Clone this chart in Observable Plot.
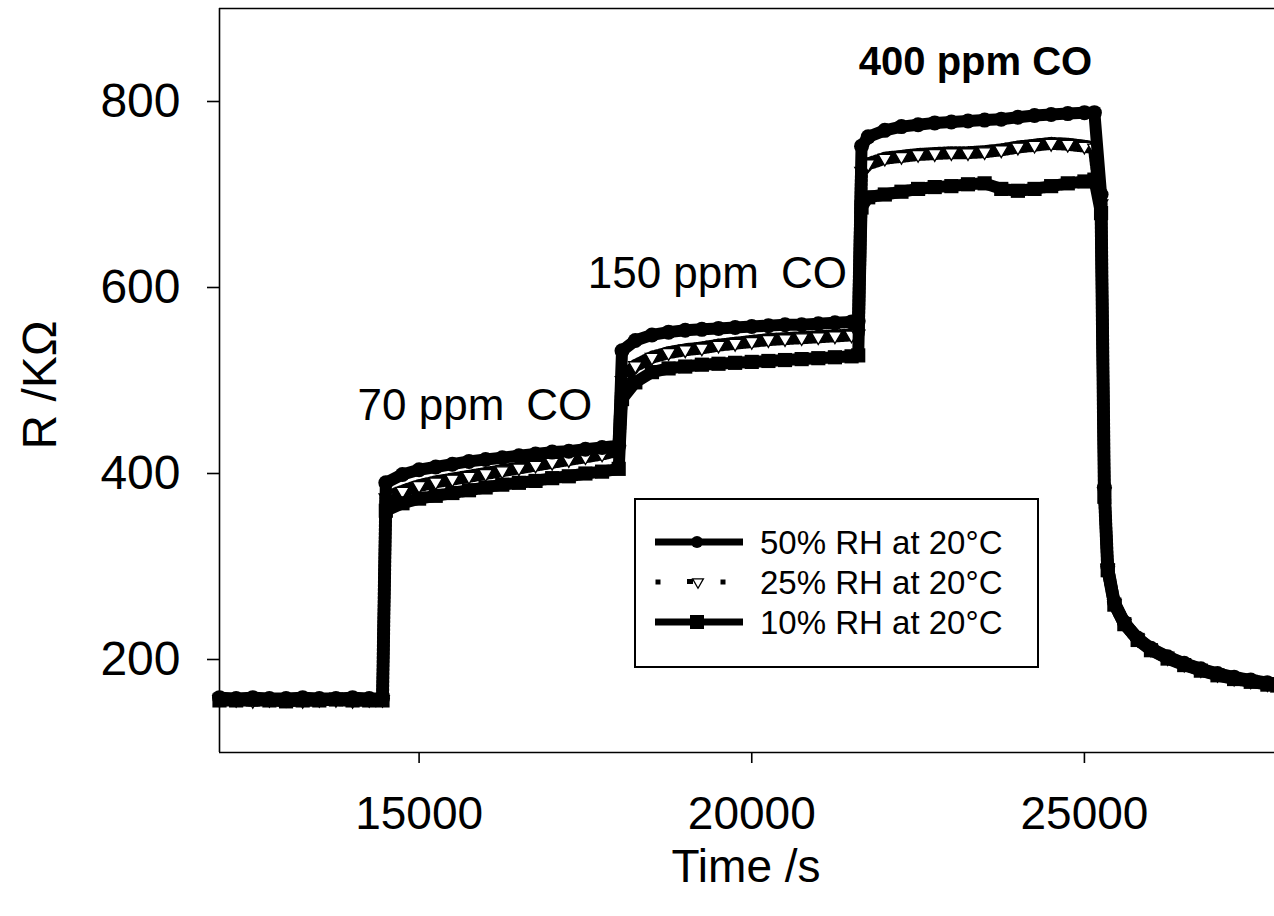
<!DOCTYPE html>
<html><head><meta charset="utf-8">
<script src="https://cdn.jsdelivr.net/npm/d3@7"></script>
<script src="https://cdn.jsdelivr.net/npm/@observablehq/plot@0.6"></script>
<style>
html,body{margin:0;padding:0;background:#fff;overflow:hidden}
#chart{position:relative;width:1274px;height:916px}
#chart svg text{font-family:'Liberation Sans',Arial,sans-serif}
g[aria-label="y-axis tick label"]{font-size:48px}
g[aria-label="x-axis tick label"]{font-size:46px}
g[aria-label="x-axis tick"] path, g[aria-label="y-axis tick"] path{stroke-width:1.6px}
</style></head><body><div id="chart"></div>
<script>
// ---- data ----
const xTicks = [15000, 20000, 25000];
const yTicks = [200, 400, 600, 800];
const seriesNames = ["50% RH at 20°C", "25% RH at 20°C", "10% RH at 20°C"];

const time = [
  12000, 12250, 12500, 12750, 13000, 13250, 13500, 13750, 14000, 14250, 14450,
  14500, 14750, 15000, 15250, 15500, 15750, 16000, 16250, 16500, 16750, 17000, 17250, 17500, 17750, 18000,
  18050, 18250, 18500, 18750, 19000, 19250, 19500, 19750, 20000, 20250, 20500, 20750, 21000, 21250, 21500, 21600,
  21650, 21750, 22000, 22250, 22500, 22750, 23000, 23250, 23500, 23750, 24000, 24250, 24500, 24750, 25000, 25150,
  25250, 25300, 25350, 25450, 25600, 25800, 26000, 26250, 26500, 26750, 27000, 27250, 27500, 27750, 27900
];
const rh50 = [
  159, 158, 159, 158, 158, 159, 158, 158, 159, 158, 158,
  390, 399, 404, 407, 410, 413, 415, 417, 419, 421, 423, 424, 426, 428, 430,
  532, 543, 549, 552, 554, 555, 556, 557, 558, 559, 560, 560, 561, 562, 563, 564,
  752, 762, 769, 773, 775, 777, 778, 779, 780, 781, 783, 785, 786, 787, 788, 788,
  700, 385, 300, 262, 240, 223, 212, 203, 196, 190, 185, 181, 178, 175, 174
];
const rh25 = [
  157, 157, 156, 157, 157, 156, 157, 157, 156, 157, 157,
  374, 381, 387, 391, 394, 397, 400, 403, 406, 409, 412, 415, 418, 421, 425,
  500, 516, 525, 530, 533, 535, 538, 540, 542, 544, 545, 546, 547, 548, 549, 550,
  725, 733, 739, 741, 743, 744, 745, 745, 746, 748, 751, 753, 755, 754, 752, 750,
  690, 380, 298, 260, 239, 222, 211, 202, 195, 189, 184, 180, 177, 174, 173
];
const rh10 = [
  156, 156, 157, 156, 155, 156, 156, 157, 156, 156, 156,
  360, 368, 373, 376, 379, 382, 385, 388, 390, 392, 395, 397, 400, 402, 405,
  480, 498, 509, 513, 515, 517, 518, 519, 520, 521, 522, 523, 524, 525, 526, 527,
  686, 697, 700, 703, 706, 708, 709, 711, 712, 706, 704, 706, 709, 712, 714, 716,
  680, 375, 296, 259, 238, 221, 210, 201, 194, 188, 183, 179, 176, 173, 172
];

const annoText = ["70 ppm\u2002CO", "150 ppm\u2002CO", "400 ppm CO"];
const annoTime = [14075, 17534, 21609];
const annoR = [458, 600, 828];
const annoBold = [false, false, true];

// ---- build tables ----
const toRows = vals => time.map((t, i) => ({t, r: vals[i]}));
const d50 = toRows(rh50), d25 = toRows(rh25), d10 = toRows(rh10);
const anno = annoText.map((text, i) => ({text, t: annoTime[i], r: annoR[i], bold: annoBold[i]}));

const chart = Plot.plot({
  width: 1274, height: 916,
  marginLeft: 219, marginRight: 0, marginTop: 8, marginBottom: 164,
  style: {fontFamily: "'Liberation Sans', Arial, sans-serif", fontSize: "46px", color: "#000", background: "#fff"},
  x: {domain: [12000, 27857], ticks: xTicks, tickSize: 11, tickPadding: 33, tickFormat: d => String(d), label: null},
  y: {domain: [100, 900], ticks: yTicks, tickSize: 12, tickPadding: 27, label: null},
  marks: [
    Plot.line(d25, {x: "t", y: "r", stroke: "#fff", strokeWidth: 13}),
    Plot.line(d25, {x: "t", y: "r", stroke: "#000", strokeWidth: 13, strokeDasharray: "2,2"}),
    Plot.dot(d25, {x: "t", y: "r", symbol: "triangle", rotate: 180, r: 5, fill: "#fff", stroke: "#000", strokeWidth: 1.3}),
    Plot.line(d10, {x: "t", y: "r", stroke: "#000", strokeWidth: 12}),
    Plot.dot(d10, {x: "t", y: "r", symbol: "square", r: 8, fill: "#000"}),
    Plot.line(d50, {x: "t", y: "r", stroke: "#000", strokeWidth: 12}),
    Plot.dot(d50, {x: "t", y: "r", symbol: "circle", r: 7.5, fill: "#000"}),
    Plot.text(anno.filter(d => !d.bold), {x: "t", y: "r", text: "text", textAnchor: "start", lineAnchor: "bottom", fontSize: 44, fill: "#000"}),
    Plot.text(anno.filter(d => d.bold), {x: "t", y: "r", text: "text", textAnchor: "start", lineAnchor: "bottom", fontSize: 40, fontWeight: "bold", fill: "#000"}),
    Plot.ruleX([12000], {stroke: "#000", strokeWidth: 1.6}),
    Plot.ruleY([100, 900], {stroke: "#000", strokeWidth: 1.6})
  ]
});

const root = document.getElementById("chart");
root.appendChild(chart);

// axis titles
const svg = d3.select(chart);
svg.append("text").attr("x", 746).attr("y", 882).attr("text-anchor", "middle")
  .attr("font-size", 46).attr("fill", "#000").text("Time /s");
svg.append("text").attr("transform", "translate(56,385) rotate(-90)").attr("text-anchor", "middle")
  .attr("font-size", 48).attr("fill", "#000").text("R /KΩ");

// legend (inside the plot area)
const leg = d3.create("svg").attr("width", 405).attr("height", 170)
  .style("position", "absolute").style("left", "634px").style("top", "498px");
leg.append("rect").attr("x", 1).attr("y", 1).attr("width", 403).attr("height", 168)
  .attr("fill", "#fff").attr("stroke", "#000").attr("stroke-width", 2);
const rowY = [44, 84, 124];
const tri = d3.symbol(d3.symbolTriangle, Math.PI * 16)();
seriesNames.forEach((name, i) => {
  const g = leg.append("g").attr("transform", `translate(0,${rowY[i]})`);
  if (i === 1) {
    [24, 89].forEach(x => g.append("rect").attr("x", x - 2.5).attr("y", -2.5).attr("width", 5).attr("height", 5).attr("fill", "#000"));
    g.append("rect").attr("x", 53).attr("y", -3).attr("width", 6).attr("height", 5).attr("fill", "#000");
    g.append("path").attr("d", tri).attr("transform", "translate(64,0) rotate(180)").attr("fill", "#fff").attr("stroke", "#000").attr("stroke-width", 1.3);
  } else {
    g.append("line").attr("x1", 21).attr("x2", 109).attr("stroke", "#000").attr("stroke-width", 7);
    if (i === 0) g.append("circle").attr("cx", 63).attr("r", 6).attr("fill", "#000");
    else g.append("rect").attr("x", 56).attr("y", -7).attr("width", 14).attr("height", 14).attr("fill", "#000");
  }
  g.append("text").attr("x", 126).attr("y", 11.5).attr("font-size", 33)
    .attr("font-family", "'Liberation Sans', Arial, sans-serif").attr("fill", "#000").text(name);
});
root.appendChild(leg.node());
</script>
</body></html>
